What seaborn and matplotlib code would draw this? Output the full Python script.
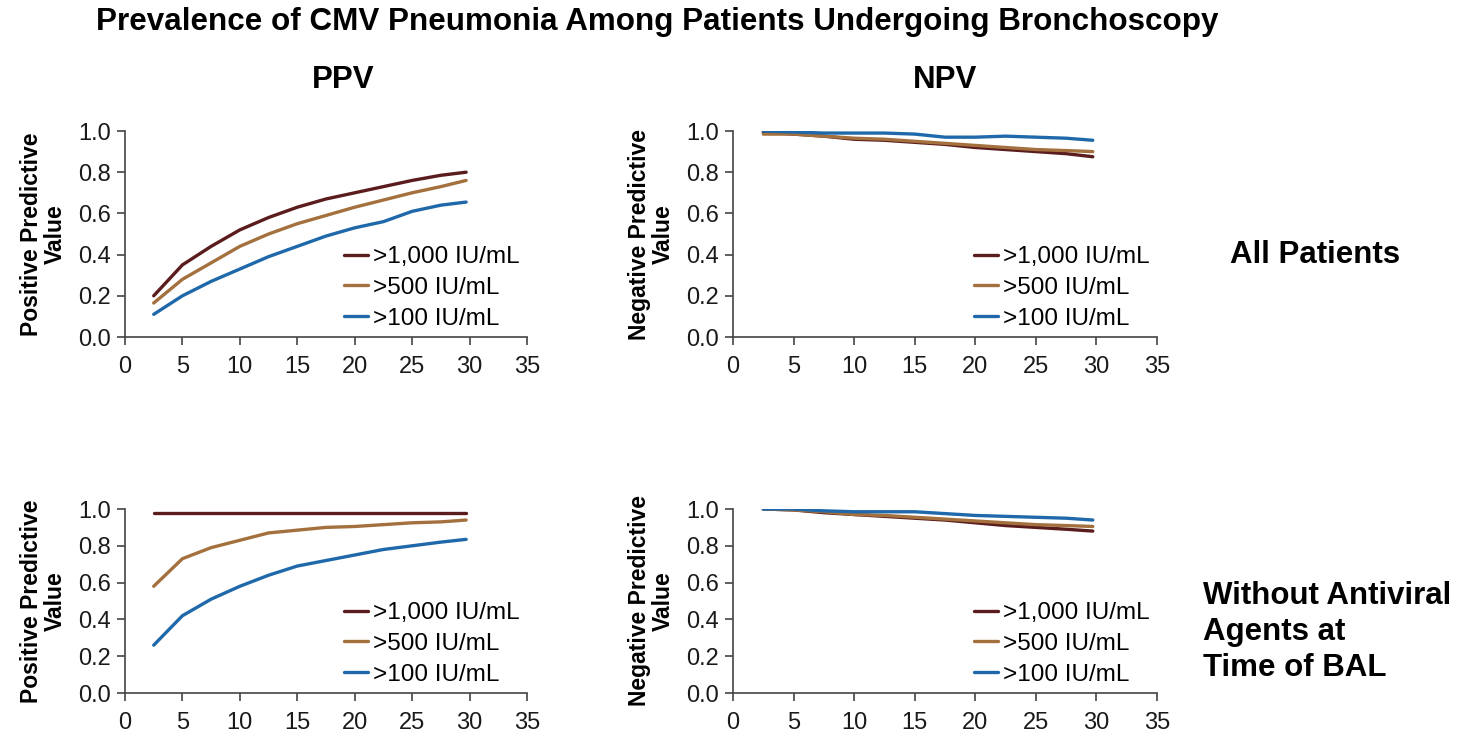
import numpy as np
import pandas as pd
import matplotlib
matplotlib.use("Agg")
import matplotlib.pyplot as plt
import seaborn as sns

# prevalence (%) on the x axis
prevalence = [2.5, 5, 7.5, 10, 12.5, 15, 17.5, 20, 22.5, 25, 27.5, 29.7]
thresholds = [">1,000 IU/mL", ">500 IU/mL", ">100 IU/mL"]

# all patients
ppv_all_1000 = [0.20, 0.35, 0.44, 0.52, 0.58, 0.63, 0.67, 0.70, 0.73, 0.76, 0.785, 0.80]
ppv_all_500 = [0.165, 0.28, 0.36, 0.44, 0.50, 0.55, 0.59, 0.63, 0.665, 0.70, 0.73, 0.76]
ppv_all_100 = [0.11, 0.20, 0.27, 0.33, 0.39, 0.44, 0.49, 0.53, 0.56, 0.61, 0.64, 0.655]

npv_all_1000 = [0.995, 0.985, 0.975, 0.96, 0.955, 0.945, 0.935, 0.92, 0.91, 0.90, 0.89, 0.875]
npv_all_500 = [0.985, 0.985, 0.975, 0.965, 0.96, 0.95, 0.94, 0.93, 0.92, 0.91, 0.905, 0.90]
npv_all_100 = [1.0, 0.995, 0.99, 0.99, 0.99, 0.985, 0.97, 0.97, 0.975, 0.97, 0.965, 0.955]

# without antiviral agents at time of BAL
ppv_noav_1000 = [0.98, 0.98, 0.98, 0.98, 0.98, 0.98, 0.98, 0.98, 0.98, 0.98, 0.98, 0.98]
ppv_noav_500 = [0.58, 0.73, 0.79, 0.83, 0.87, 0.885, 0.90, 0.905, 0.915, 0.925, 0.93, 0.94]
ppv_noav_100 = [0.26, 0.42, 0.51, 0.58, 0.64, 0.69, 0.72, 0.75, 0.78, 0.80, 0.82, 0.835]

npv_noav_1000 = [1.0, 0.995, 0.98, 0.97, 0.96, 0.95, 0.94, 0.925, 0.91, 0.90, 0.89, 0.88]
npv_noav_500 = [1.0, 0.995, 0.985, 0.97, 0.965, 0.955, 0.945, 0.935, 0.925, 0.915, 0.91, 0.905]
npv_noav_100 = [1.0, 1.0, 0.99, 0.985, 0.985, 0.985, 0.975, 0.965, 0.96, 0.955, 0.95, 0.94]

colors = ["#5a1c1c", "#a3703e", "#1f69aa"]

sns.set_style("ticks")
plt.rcParams['font.family'] = ['Liberation Sans', 'DejaVu Sans']
plt.rcParams['text.color'] = 'black'


def make_df(s1000, s500, s100):
    rows = []
    for name, vals in zip(thresholds, [s1000, s500, s100]):
        for x, v in zip(prevalence, vals):
            rows.append({"prev": x, "value": v, "threshold": name})
    return pd.DataFrame(rows)


fig = plt.figure(figsize=(14.64, 7.37), dpi=100)
W, H = 1464, 737


def add_ax(left, top, right, bottom):
    return fig.add_axes([left / W, 1 - bottom / H, (right - left) / W, (bottom - top) / H])


panels = [
    (add_ax(125, 131, 527, 337), make_df(ppv_all_1000, ppv_all_500, ppv_all_100), "Positive Predictive\nValue"),
    (add_ax(733, 131, 1157, 337), make_df(npv_all_1000, npv_all_500, npv_all_100), "Negative Predictive\nValue"),
    (add_ax(125, 509, 527, 693), make_df(ppv_noav_1000, ppv_noav_500, ppv_noav_100), "Positive Predictive\nValue"),
    (add_ax(733, 509, 1157, 693), make_df(npv_noav_1000, npv_noav_500, npv_noav_100), "Negative Predictive\nValue"),
]

for ax, df, ylab in panels:
    sns.lineplot(data=df, x="prev", y="value", hue="threshold", hue_order=thresholds,
                 palette=colors, linewidth=2.4, ax=ax)
    ax.set_xlim(0, 35)
    ax.set_ylim(0, 1.0)
    ax.set_xticks(np.arange(0, 36, 5))
    ax.set_yticks(np.arange(0, 1.01, 0.2))
    ax.set_yticklabels([f"{t:.1f}" for t in np.arange(0, 1.01, 0.2)])
    ax.set_xlabel("")
    ax.set_ylabel(ylab, fontsize=16.5, fontweight="bold", labelpad=8, linespacing=1.05, color="black")
    ax.tick_params(labelsize=17, length=6, width=1.2, color="#444444", labelcolor="#1a1a1a", pad=4)
    ax.tick_params(axis="x", pad=8)
    for s in ["left", "bottom"]:
        ax.spines[s].set_color("#444444")
        ax.spines[s].set_linewidth(1.2)
    ax.spines["top"].set_visible(False)
    ax.spines["right"].set_visible(False)
    ax.legend(loc="lower right", bbox_to_anchor=(1.0, 0.0), frameon=False, fontsize=17.5,
              handlelength=1.0, handletextpad=0.2, labelspacing=0.36, borderaxespad=-0.1)

fig.text(657 / W, 1 - 22 / H, "Prevalence of CMV Pneumonia Among Patients Undergoing Bronchoscopy",
         ha="center", va="center", fontsize=22.6, fontweight="bold")
fig.text(343 / W, 1 - 80 / H, "PPV", ha="center", va="center", fontsize=22.5, fontweight="bold")
fig.text(945 / W, 1 - 80 / H, "NPV", ha="center", va="center", fontsize=22.5, fontweight="bold")
fig.text(1315 / W, 1 - 255 / H, "All Patients", ha="center", va="center", fontsize=22.5, fontweight="bold")
fig.text(1203 / W, 1 - 632 / H, "Without Antiviral\nAgents at\nTime of BAL", ha="left", va="center",
         fontsize=22.5, fontweight="bold", linespacing=1.25)

fig.savefig("out.png", dpi=100)
